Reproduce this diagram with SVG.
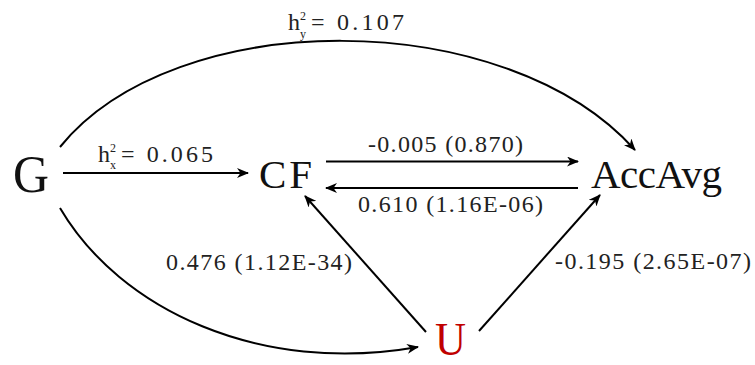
<svg xmlns="http://www.w3.org/2000/svg" width="755" height="365" viewBox="0 0 755 365">
<style>
.node{font-family:"Liberation Serif","Times New Roman",serif;fill:#111}
.lbl{font-family:"Liberation Serif","Times New Roman",serif;font-size:24px;fill:#222}
.sup{font-family:"Liberation Serif","Times New Roman",serif;font-size:12px;fill:#222}
.edge{fill:none;stroke:#000;stroke-width:2;marker-end:url(#ah)}
</style>
<defs>
<marker id="ah" viewBox="0 0 12 10" refX="11" refY="5" markerWidth="12" markerHeight="10" markerUnits="userSpaceOnUse" orient="auto">
<path d="M0,0 L12,5 L0,10 L3.5,5 z" fill="#000"/>
</marker>
</defs>
<rect width="755" height="365" fill="#fff"/>
<g id="connectors">
<path class="edge" d="M63,173 L248,173"/>
<path class="edge" d="M60,147 C175,5 505,5 635,150"/>
<path class="edge" d="M60,208 C120,310 260,375 418,347"/>
<path class="edge" d="M326,161.5 L578,161.5"/>
<path class="edge" d="M578,188 L326,188"/>
<path class="edge" d="M426,332 L305,196"/>
<path class="edge" d="M479,331 L600,195"/>
</g>
<g id="labels">
<text class="lbl" x="98" y="162">h</text><text class="sup" x="110" y="152">2</text><text class="sup" x="110" y="169">x</text><text class="lbl" x="121" y="162" textLength="92" lengthAdjust="spacing">= 0.065</text>
<text class="lbl" x="288" y="30">h</text><text class="sup" x="300" y="20">2</text><text class="sup" x="300" y="38">y</text><text class="lbl" x="311" y="30" textLength="93" lengthAdjust="spacing">= 0.107</text>
<text class="lbl" x="368" y="152" textLength="155" lengthAdjust="spacing">-0.005 (0.870)</text>
<text class="lbl" x="358" y="212" textLength="185" lengthAdjust="spacing">0.610 (1.16E-06)</text>
<text class="lbl" x="166" y="270" textLength="186" lengthAdjust="spacing">0.476 (1.12E-34)</text>
<text class="lbl" x="555" y="269" textLength="196" lengthAdjust="spacing">-0.195 (2.65E-07)</text>
</g>
<g id="node-G"><text class="node" x="13" y="192" font-size="52" textLength="36" lengthAdjust="spacingAndGlyphs">G</text></g>
<g id="node-CF"><text class="node" x="259" y="188" font-size="41" textLength="53" lengthAdjust="spacing">CF</text></g>
<g id="node-AccAvg"><text class="node" x="591" y="188" font-size="41" textLength="131" lengthAdjust="spacing">AccAvg</text></g>
<g id="node-U"><text class="node" x="435" y="355" font-size="46" style="fill:#c00000" textLength="31" lengthAdjust="spacingAndGlyphs">U</text></g>
</svg>
